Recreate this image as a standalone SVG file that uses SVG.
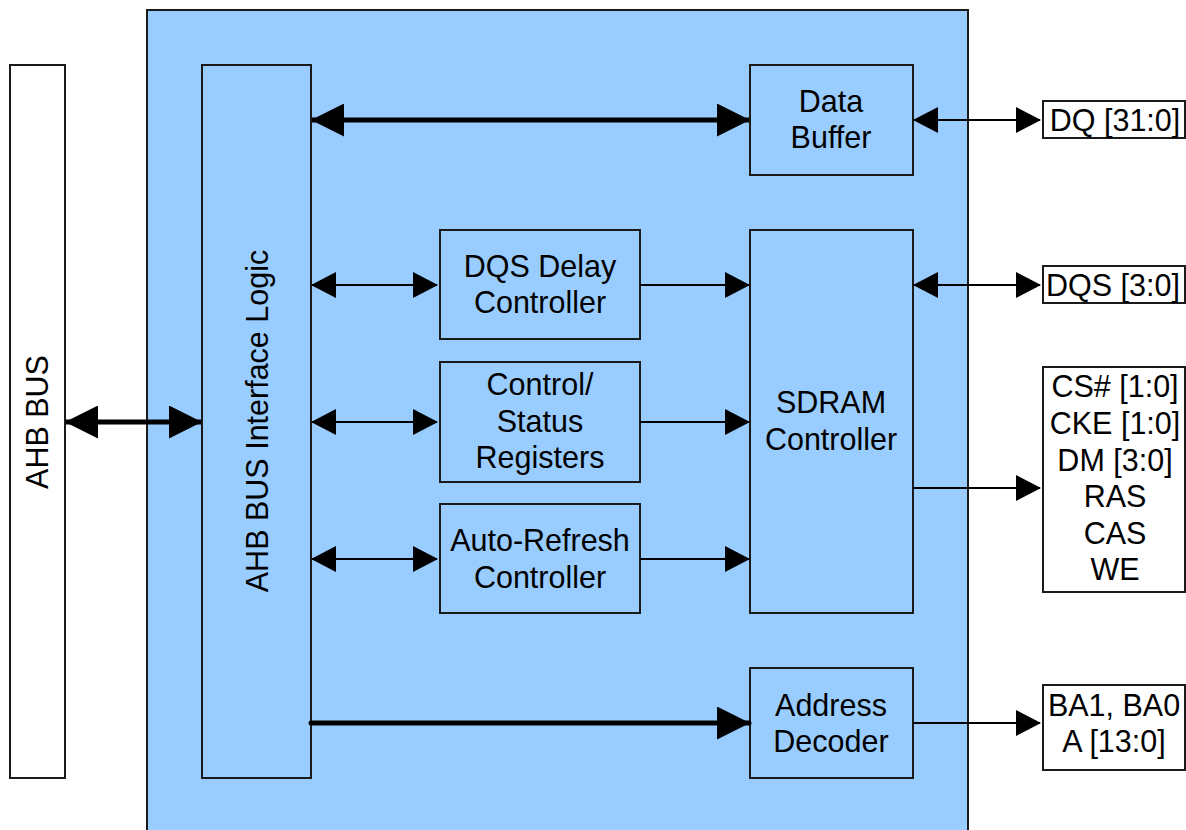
<svg xmlns="http://www.w3.org/2000/svg" width="1186" height="830" viewBox="0 0 1186 830">
<style>
.blk{fill:#99CCFF;stroke:#1a1a1a;stroke-width:2}
.wht{fill:#ffffff;stroke:#1a1a1a;stroke-width:2}
.t{font-family:"Liberation Sans",Arial,sans-serif;font-size:30.5px;fill:#000;text-anchor:middle}
.thin{stroke:#000;stroke-width:2;fill:none}
.thick{stroke:#000;stroke-width:5;fill:none}
</style>
<defs>
<marker id="ah" markerUnits="userSpaceOnUse" markerWidth="25" markerHeight="26" viewBox="0 0 25 26" refX="24" refY="13" orient="auto-start-reverse"><path d="M0,0 L25,13 L0,26 z" fill="#000"/></marker>
<marker id="AH" markerUnits="userSpaceOnUse" markerWidth="33" markerHeight="33" viewBox="0 0 33 33" refX="32" refY="16.5" orient="auto-start-reverse"><path d="M0,0 L33,16.5 L0,33 z" fill="#000"/></marker>
</defs>
<rect width="1186" height="830" fill="#fff"/>
<g id="ahb-bus"><rect class="wht" x="10" y="65" width="55" height="713"/><text class="t" transform="translate(48,422) rotate(-90)">AHB BUS</text></g>
<g id="main"><rect class="blk" x="147" y="10" width="821" height="830"/></g>
<g id="interface"><rect class="blk" x="202" y="65" width="109" height="713"/><text class="t" transform="translate(268,421) rotate(-90)">AHB BUS Interface Logic</text></g>
<g id="data-buffer"><rect class="blk" x="750" y="65" width="163" height="110"/><text class="t" x="831" y="112">Data</text><text class="t" x="831" y="148">Buffer</text></g>
<g id="dqs-delay"><rect class="blk" x="440" y="230" width="200" height="109"/><text class="t" x="540" y="277">DQS Delay</text><text class="t" x="540" y="313">Controller</text></g>
<g id="ctrl-status"><rect class="blk" x="440" y="362" width="200" height="120"/><text class="t" x="540" y="395">Control/</text><text class="t" x="540" y="432">Status</text><text class="t" x="540" y="468">Registers</text></g>
<g id="auto-refresh"><rect class="blk" x="440" y="504" width="200" height="109"/><text class="t" x="540" y="551">Auto-Refresh</text><text class="t" x="540" y="588">Controller</text></g>
<g id="sdram"><rect class="blk" x="750" y="230" width="163" height="383"/><text class="t" x="831" y="413">SDRAM</text><text class="t" x="831" y="450">Controller</text></g>
<g id="addr-dec"><rect class="blk" x="750" y="668" width="163" height="110"/><text class="t" x="831" y="716">Address</text><text class="t" x="831" y="752">Decoder</text></g>
<g id="dq"><rect class="wht" x="1043" y="101" width="142" height="37"/><text class="t" x="1115" y="131">DQ [31:0]</text></g>
<g id="dqs"><rect class="wht" x="1043" y="266" width="142" height="37"/><text class="t" x="1113" y="296">DQS [3:0]</text></g>
<g id="ctrl-sig"><rect class="wht" x="1043" y="367" width="142" height="225"/><text class="t" x="1115" y="397">CS# [1:0]</text><text class="t" x="1115" y="434">CKE [1:0]</text><text class="t" x="1115" y="471">DM [3:0]</text><text class="t" x="1115" y="507">RAS</text><text class="t" x="1115" y="544">CAS</text><text class="t" x="1115" y="580">WE</text></g>
<g id="addr-sig"><rect class="wht" x="1043" y="685" width="142" height="85"/><text class="t" x="1114" y="716">BA1, BA0</text><text class="t" x="1114" y="752">A [13:0]</text></g>
<g id="connectors">
<line class="thick" x1="66" y1="422" x2="201" y2="422" marker-start="url(#AH)" marker-end="url(#AH)"/>
<line class="thick" x1="312" y1="120" x2="749" y2="120" marker-start="url(#AH)" marker-end="url(#AH)"/>
<line class="thick" x1="311" y1="723" x2="749" y2="723" stroke-linecap="round" marker-end="url(#AH)"/>
<line class="thin" x1="312" y1="285" x2="437" y2="285" marker-start="url(#ah)" marker-end="url(#ah)"/>
<line class="thin" x1="312" y1="422" x2="437" y2="422" marker-start="url(#ah)" marker-end="url(#ah)"/>
<line class="thin" x1="312" y1="559" x2="437" y2="559" marker-start="url(#ah)" marker-end="url(#ah)"/>
<line class="thin" x1="640" y1="285" x2="749" y2="285" marker-end="url(#ah)"/>
<line class="thin" x1="640" y1="422" x2="749" y2="422" marker-end="url(#ah)"/>
<line class="thin" x1="640" y1="559" x2="749" y2="559" marker-end="url(#ah)"/>
<line class="thin" x1="914" y1="120" x2="1040" y2="120" marker-start="url(#ah)" marker-end="url(#ah)"/>
<line class="thin" x1="914" y1="285" x2="1040" y2="285" marker-start="url(#ah)" marker-end="url(#ah)"/>
<line class="thin" x1="913" y1="488" x2="1040" y2="488" marker-end="url(#ah)"/>
<line class="thin" x1="913" y1="723" x2="1040" y2="723" marker-end="url(#ah)"/>
</g>
</svg>
